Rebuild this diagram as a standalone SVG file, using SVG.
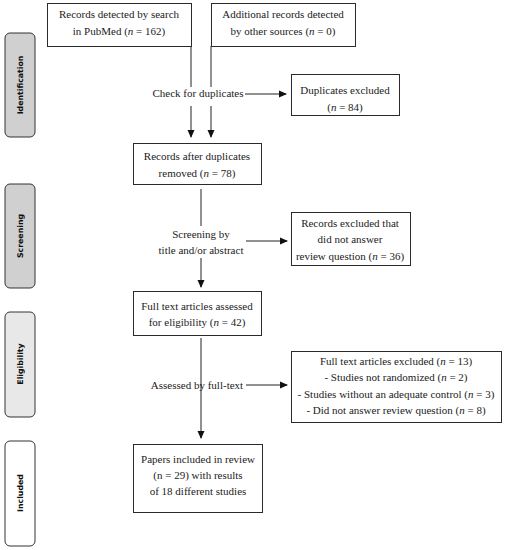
<svg xmlns="http://www.w3.org/2000/svg" width="505" height="550" viewBox="0 0 505 550">
<style>
.box{fill:#fff;stroke:#2a2a2a;stroke-width:1}
.t{font-family:"Liberation Serif",serif;font-size:11px;fill:#222;text-anchor:middle}
.tab{stroke:#333;stroke-width:1}
.tl{font-family:"DejaVu Sans",sans-serif;font-size:7.8px;font-weight:bold;fill:#111;text-anchor:middle}
.ln{stroke:#222;stroke-width:1;fill:none}
</style>
<defs>
<marker id="ah" markerWidth="8" markerHeight="8" refX="7" refY="4" orient="auto" markerUnits="userSpaceOnUse">
<path d="M0,0.5 L8,4 L0,7.5 Z" fill="#111"/>
</marker>
</defs>
<rect width="505" height="550" fill="#fff"/>
<g id="tab-identification">
<rect class="tab" x="5" y="33" width="30" height="104" rx="5" fill="#d0d0d0"/>
<text class="tl" transform="translate(23,85) rotate(-90)">Identification</text>
</g>
<g id="tab-screening">
<rect class="tab" x="5" y="184" width="30" height="104" rx="5" fill="#d0d0d0"/>
<text class="tl" transform="translate(23,236) rotate(-90)">Screening</text>
</g>
<g id="tab-eligibility">
<rect class="tab" x="5" y="312" width="30" height="105" rx="5" fill="#e8e8e8"/>
<text class="tl" transform="translate(23,364) rotate(-90)">Eligibility</text>
</g>
<g id="tab-included">
<rect class="tab" x="5" y="441" width="30" height="105" rx="5" fill="#fff"/>
<text class="tl" transform="translate(23,493) rotate(-90)">Included</text>
</g>
<g id="connectors">
<line class="ln" x1="191" y1="46" x2="191" y2="87"/>
<line class="ln" x1="211" y1="46" x2="211" y2="87"/>
<line class="ln" x1="191" y1="106" x2="191" y2="137" marker-end="url(#ah)"/>
<line class="ln" x1="211" y1="106" x2="211" y2="137" marker-end="url(#ah)"/>
<line class="ln" x1="245" y1="94" x2="286" y2="94" marker-end="url(#ah)"/>
<line class="ln" x1="201" y1="189" x2="201" y2="226"/>
<line class="ln" x1="201" y1="258" x2="201" y2="287" marker-end="url(#ah)"/>
<line class="ln" x1="246" y1="241" x2="287" y2="241" marker-end="url(#ah)"/>
<line class="ln" x1="201" y1="338" x2="201" y2="438" marker-end="url(#ah)"/>
<line class="ln" x1="246" y1="385" x2="287" y2="385" marker-end="url(#ah)"/>
</g>
<g id="label-check">
<rect x="152" y="87" width="93" height="14" fill="#fff"/>
<text class="t" x="198" y="97">Check for duplicates</text>
</g>
<g id="label-screening">
<text class="t" x="201" y="238">Screening by</text>
<text class="t" x="201" y="254">title and/or abstract</text>
</g>
<g id="label-assessed">
<text class="t" x="197" y="389">Assessed by full-text</text>
</g>
<g id="node-pubmed">
<rect class="box" x="47.5" y="3.5" width="144" height="43"/>
<text class="t" x="119" y="18">Records detected by search</text>
<text class="t" x="119" y="35">in PubMed (<tspan font-style="italic">n</tspan> = 162)</text>
</g>
<g id="node-other">
<rect class="box" x="211.5" y="3.5" width="144" height="43"/>
<text class="t" x="283" y="18">Additional records detected</text>
<text class="t" x="283" y="35">by other sources (<tspan font-style="italic">n</tspan> = 0)</text>
</g>
<g id="node-dupex">
<rect class="box" x="291.5" y="74.5" width="108" height="41"/>
<text class="t" x="345" y="94">Duplicates excluded</text>
<text class="t" x="345" y="111">(<tspan font-style="italic">n</tspan> = 84)</text>
</g>
<g id="node-after">
<rect class="box" x="133.5" y="143.5" width="128" height="41"/>
<text class="t" x="197" y="160">Records after duplicates</text>
<text class="t" x="197" y="177">removed (<tspan font-style="italic">n</tspan> = 78)</text>
</g>
<g id="node-recex">
<rect class="box" x="291.5" y="212.5" width="119" height="53"/>
<text class="t" x="350" y="227">Records excluded that</text>
<text class="t" x="350" y="243">did not answer</text>
<text class="t" x="350" y="260">review question (<tspan font-style="italic">n</tspan> = 36)</text>
</g>
<g id="node-fulltext">
<rect class="box" x="133.5" y="291.5" width="128" height="44"/>
<text class="t" x="197" y="310">Full text articles assessed</text>
<text class="t" x="197" y="326">for eligibility (<tspan font-style="italic">n</tspan> = 42)</text>
</g>
<g id="node-ftex">
<rect class="box" x="291.5" y="351.5" width="210" height="71"/>
<text class="t" x="396" y="365">Full text articles excluded (<tspan font-style="italic">n</tspan> = 13)</text>
<text class="t" x="396" y="381">- Studies not randomized (<tspan font-style="italic">n</tspan> = 2)</text>
<text class="t" x="396" y="398">- Studies without an adequate control (<tspan font-style="italic">n</tspan> = 3)</text>
<text class="t" x="396" y="414">- Did not answer review question (<tspan font-style="italic">n</tspan> = 8)</text>
</g>
<g id="node-included">
<rect class="box" x="133.5" y="444.5" width="129" height="68"/>
<text class="t" x="198" y="463">Papers included in review</text>
<text class="t" x="198" y="479">(n = 29) with results</text>
<text class="t" x="198" y="495">of 18 different studies</text>
</g>
</svg>
